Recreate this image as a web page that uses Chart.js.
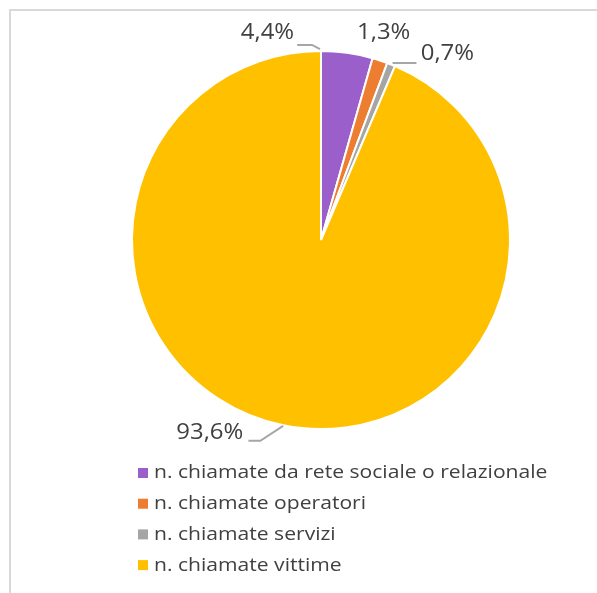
<!DOCTYPE html>
<html>
<head>
<meta charset="utf-8">
<script src="https://cdn.jsdelivr.net/npm/chart.js@4/dist/chart.umd.min.js"></script>
<style>
  html, body { margin: 0; padding: 0; background: #fff; }
  #wrap { position: relative; width: 597px; height: 593px; overflow: hidden; }
  #frame {
    position: absolute; left: 9px; top: 9px; right: -10px; bottom: -10px;
    border-left: 2px solid #d9d9d9; border-top: 2px solid #d9d9d9;
  }
  #myChart { position: absolute; left: 0; top: 0; }
</style>
</head>
<body>
<div id="wrap">
  <div id="frame"></div>
  <canvas id="myChart" width="597" height="593"></canvas>
</div>
<script>
// DATA
const categories = [
  "n. chiamate da rete sociale o relazionale",
  "n. chiamate operatori",
  "n. chiamate servizi",
  "n. chiamate vittime",
];
const shares = [4.4, 1.3, 0.7, 93.6];
const sliceColours = ["#9b5fcb", "#ed7d31", "#a5a5a5", "#ffc000"];

// LABEL PLACEMENT (polar: degrees clockwise from top, radius factor)
const labelSpots = [
  { a: -14.5, r: 1.131, leader: [[-6.98, 1.039], [-2.63, 1.033], [-0.3, 1.01]] },
  { a: 16.85, r: 1.144, leader: null },
  { a: 34.2, r: 1.19, leader: [[28.34, 1.064], [22.03, 1.01]] },
  { a: 209.9, r: 1.18, leader: [[199.87, 1.13], [196.8, 1.11], [191.5, 1.004]] },
];

const TEXT = "#404040";
const FONT = "'Open Sans', sans-serif";

function stretchedText(ctx, str, x, y, align, sx) {
  ctx.save();
  ctx.translate(x, y);
  ctx.scale(sx, 1);
  ctx.textAlign = align;
  ctx.fillText(str, 0, 0);
  ctx.restore();
}

function polar(arc, deg, f) {
  const t = (deg * Math.PI) / 180;
  return [arc.x + Math.sin(t) * arc.outerRadius * f, arc.y - Math.cos(t) * arc.outerRadius * f];
}

// PLUGIN - PERCENT LABELS + LEGEND
const excelLook = {
  id: "excelLook",
  afterDraw(chart) {
    const ctx = chart.ctx;
    const arcs = chart.getDatasetMeta(0).data;

    // labels
    ctx.save();
    ctx.fillStyle = TEXT;
    ctx.font = "21px " + FONT;
    ctx.textBaseline = "middle";
    ctx.strokeStyle = "#a6a6a6";
    ctx.lineWidth = 2;
    shares.forEach((v, i) => {
      const spot = labelSpots[i];
      const [lx, ly] = polar(arcs[i], spot.a, spot.r);
      stretchedText(ctx, v.toFixed(1).replace(".", ",") + "%", lx, ly, "center", 1.14);
      if (spot.leader) {
        ctx.beginPath();
        spot.leader.forEach(([a, f], k) => {
          const [px, py] = polar(arcs[i], a, f);
          k === 0 ? ctx.moveTo(px, py) : ctx.lineTo(px, py);
        });
        ctx.stroke();
      }
    });
    ctx.restore();

    // legend
    ctx.save();
    ctx.font = "19px " + FONT;
    ctx.textBaseline = "middle";
    categories.forEach((name, i) => {
      const y = 473 + i * 30.7;
      ctx.fillStyle = sliceColours[i];
      ctx.fillRect(138, y - 5, 10, 10);
      ctx.fillStyle = TEXT;
      stretchedText(ctx, name, 154, y, "left", 1.11);
    });
    ctx.restore();
  },
};

// CHART CONFIGURATION
const data = {
  labels: categories,
  datasets: [
    {
      data: shares,
      backgroundColor: sliceColours,
      borderColor: "#ffffff",
      borderWidth: 2,
    },
  ],
};

const config = {
  type: "pie",
  data,
  options: {
    responsive: false,
    animation: false,
    layout: { padding: { top: 50, bottom: 163, left: 131, right: 86 } },
    plugins: {
      legend: { display: false },
      tooltip: { enabled: false },
    },
  },
  plugins: [excelLook],
};

// RENDER CHART
const myChart = new Chart(document.getElementById("myChart"), config);
</script>
</body>
</html>
